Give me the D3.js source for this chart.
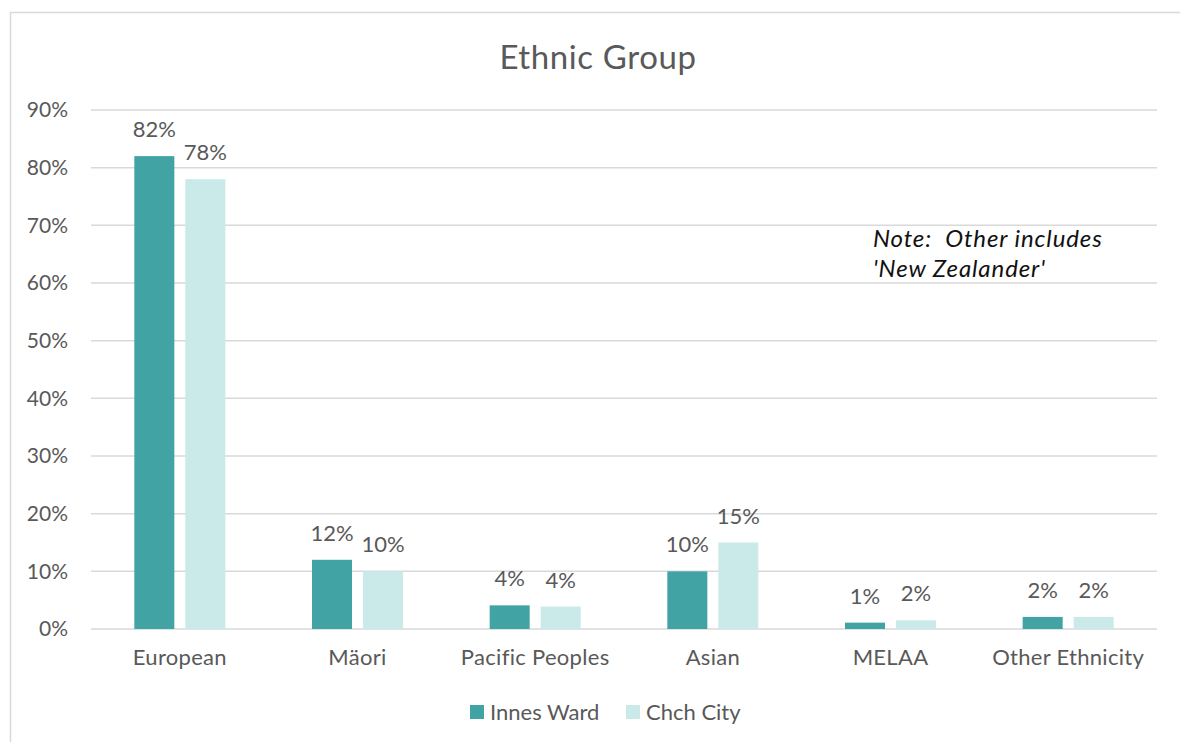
<!DOCTYPE html>
<html><head><meta charset="utf-8">
<script src="https://cdn.jsdelivr.net/npm/d3@7"></script>
<style>body{margin:0;background:#fff}svg{display:block}</style>
</head><body>
<svg id="c" width="1180" height="742"></svg>
<script>
const categories = ["European","Mäori","Pacific Peoples","Asian","MELAA","Other Ethnicity"];
const seriesNames = ["Innes Ward","Chch City"];
const innesWard = [82, 12, 4.1, 10, 1.1, 2.1];
const chchCity = [78, 10, 3.9, 15, 1.5, 2.1];
const yTicks = [0,10,20,30,40,50,60,70,80,90];
const colors = ["#41A3A3","#C9EAE9"];
const font = "Lato, 'Open Sans', sans-serif";
const textColor = "#595959";

const svg = d3.select("#c");
// frame
svg.append("path").attr("d","M10.5,742 L10.5,12.5 L1180,12.5").attr("fill","none").attr("stroke","#d9d9d9").attr("stroke-width",1.5);

const pLeft=91, pRight=1157, pTop=110, pBottom=629;
const x = d3.scaleBand().domain(categories).range([pLeft,pRight]);
const y = d3.scaleLinear().domain([0,90]).range([pBottom,pTop]);

svg.append("text").attr("x",598).attr("y",69).attr("text-anchor","middle")
  .attr("font-family",font).attr("font-size",33).attr("letter-spacing",0.6).attr("fill",textColor).text("Ethnic Group");

// gridlines
svg.append("g").selectAll("line").data(yTicks).join("line")
  .attr("x1",pLeft).attr("x2",pRight).attr("y1",d=>y(d)).attr("y2",d=>y(d))
  .attr("stroke","#d9d9d9").attr("stroke-width",1.5);

// y axis labels
const yAxis = svg.append("g").attr("transform",`translate(${pLeft},0)`)
  .call(d3.axisLeft(y).tickValues(yTicks).tickFormat(d=>d+"%").tickSize(0).tickPadding(23));
yAxis.select(".domain").remove();
yAxis.selectAll("text").attr("font-family",font).attr("font-size",21).attr("fill",textColor);

// x axis labels
const xAxis = svg.append("g").attr("transform",`translate(0,${pBottom})`)
  .call(d3.axisBottom(x).tickSize(0).tickPadding(20));
xAxis.select(".domain").remove();
xAxis.selectAll("text").attr("font-family",font).attr("font-size",22).attr("letter-spacing",0.3).attr("fill",textColor);

const series = [innesWard, chchCity];
const barW = 40, gap = 11;
const off = [-(barW+gap/2), gap/2];
series.forEach((vals,si)=>{
  const g = svg.append("g");
  g.selectAll("rect").data(vals).join("rect")
    .attr("x",(d,i)=>x(categories[i])+x.bandwidth()/2+off[si])
    .attr("y",d=>y(d)).attr("width",barW).attr("height",d=>y(0)-y(d))
    .attr("fill",colors[si]);
  g.selectAll("text").data(vals).join("text")
    .attr("x",(d,i)=>x(categories[i])+x.bandwidth()/2+off[si]+barW/2)
    .attr("y",d=>y(d)-19).attr("text-anchor","middle")
    .attr("font-family",font).attr("font-size",22).attr("fill",textColor)
    .text(d=>Math.round(d)+"%");
});

// note
const note = svg.append("text").attr("font-family",font).attr("font-size",24).attr("font-style","italic")
  .attr("letter-spacing",0.9).attr("fill","#111").style("white-space","pre");
note.append("tspan").attr("x",873).attr("y",247).text("Note:  Other includes");
note.append("tspan").attr("x",873).attr("y",277).text("'New Zealander'");

// legend
const legX=[470,626];
const lg = svg.append("g");
seriesNames.forEach((n,i)=>{
  lg.append("rect").attr("x",legX[i]).attr("y",705).attr("width",14).attr("height",14).attr("fill",colors[i]);
  lg.append("text").attr("x",legX[i]+20).attr("y",720).attr("font-family",font).attr("font-size",22).attr("fill",textColor).text(n);
});
</script>
</body></html>
